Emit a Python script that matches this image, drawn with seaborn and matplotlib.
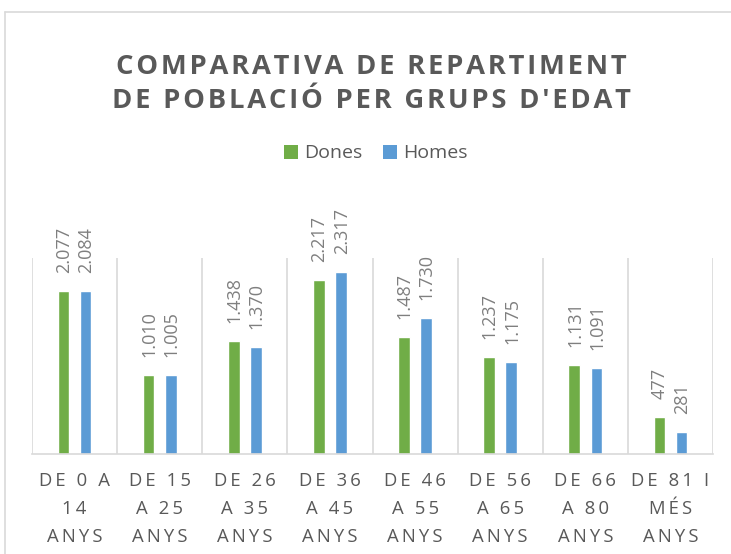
import numpy as np
import pandas as pd
import matplotlib
matplotlib.use('Agg')
import matplotlib.pyplot as plt
from matplotlib.lines import Line2D
from matplotlib.patches import Patch
import seaborn as sns

# Data
age_groups = ['DE 0 A\n14\nANYS', 'DE 15\nA 25\nANYS', 'DE 26\nA 35\nANYS', 'DE 36\nA 45\nANYS',
              'DE 46\nA 55\nANYS', 'DE 56\nA 65\nANYS', 'DE 66\nA 80\nANYS', 'DE 81 I\nMÉS\nANYS']
dones = [2077, 1010, 1438, 2217, 1487, 1237, 1131, 477]
homes = [2084, 1005, 1370, 2317, 1730, 1175, 1091, 281]
series = ['Dones', 'Homes']
colors = ['#70AD47', '#5B9BD5']
title = 'COMPARATIVA DE REPARTIMENT\nDE POBLACIÓ PER GRUPS D\'EDAT'

TXT = '#595959'
GRID = '#D9D9D9'


def track(s, sp='\u200a'):
    # fake letter spacing by putting a hair space between characters
    return '\n'.join(sp.join(line) for line in s.split('\n'))


def fmt(v):
    return f'{v:,}'.replace(',', '.')


df = pd.DataFrame({'grup': age_groups * 2,
                   'valor': dones + homes,
                   'sexe': ['Dones'] * len(dones) + ['Homes'] * len(homes)})

sns.set_style('white')
plt.rcParams['font.family'] = ['Open Sans', 'DejaVu Sans']

fig = plt.figure(figsize=(7.31, 5.54), dpi=100)
ax = fig.add_axes([32 / 731, 100 / 554, 681 / 731, 196 / 554])

sns.barplot(data=df, x='grup', y='valor', hue='sexe', hue_order=series,
            palette=colors, width=0.52, gap=0.48, ax=ax, legend=False,
            saturation=1, errorbar=None)

ax.set_ylim(0, 2500)
ax.set_xlim(-0.5, len(age_groups) - 0.5)
ax.set_yticks([])
ax.set_xlabel('')
ax.set_ylabel('')
for s in ['top', 'left', 'right']:
    ax.spines[s].set_visible(False)
ax.spines['bottom'].set_color(GRID)
ax.spines['bottom'].set_linewidth(1.2)

# vertical separators between the groups
ax.set_xticks(np.arange(-0.5, len(age_groups)), minor=True)
ax.grid(which='minor', axis='x', color=GRID, linewidth=1.2)
ax.tick_params(which='both', length=0)
ax.set_xticks(range(len(age_groups)))
ax.set_xticklabels([track(g, '\u2009') for g in age_groups], fontsize=13.3,
                   color=TXT, linespacing=1.72)
ax.tick_params(axis='x', pad=13)

# value labels, rotated
for cont, vals in zip(ax.containers, [dones, homes]):
    for bar, v in zip(cont, vals):
        ax.annotate(fmt(v), (bar.get_x() + bar.get_width() / 2, bar.get_height()),
                    xytext=(0.5, 13), textcoords='offset points', rotation=90,
                    ha='center', va='bottom', fontsize=13, color='#7F7F7F')

fig.text(0.508, 0.849, track(title), ha='center', va='center', fontsize=19.7,
         fontweight='bold', color=TXT, linespacing=1.4)

handles = [Patch(facecolor=c, edgecolor='none') for c in colors]
fig.legend(handles, series, loc='center', bbox_to_anchor=(0.514, 0.723), ncol=2,
           frameon=False, fontsize=14, handlelength=0.72, handleheight=0.72,
           handletextpad=0.3, columnspacing=1.05, labelcolor=TXT)

# chart border (top and left visible in the crop)
fig.add_artist(Line2D([5 / 731, 1], [1 - 12 / 554] * 2, color=GRID, lw=1.2))
fig.add_artist(Line2D([5 / 731] * 2, [0, 1 - 12 / 554], color=GRID, lw=1.2))

fig.savefig('out.png', dpi=100)
